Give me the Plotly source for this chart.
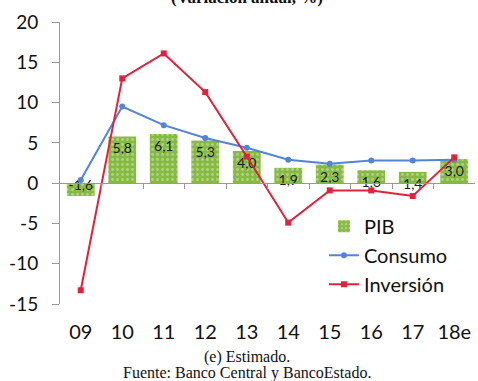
import plotly.graph_objects as go

# Annual growth figures (%)
years = ["09", "10", "11", "12", "13", "14", "15", "16", "17", "18e"]
pib = [-1.6, 5.8, 6.1, 5.3, 4.0, 1.9, 2.3, 1.6, 1.4, 3.0]
consumo = [0.4, 9.5, 7.2, 5.6, 4.4, 2.9, 2.4, 2.8, 2.8, 2.9]
inversion = [-13.3, 13.0, 16.1, 11.3, 3.3, -4.9, -0.9, -0.9, -1.6, 3.2]

y_ticks = [-15, -10, -5, 0, 5, 10, 15, 20]
y_ticktext = [str(v) for v in y_ticks]

idx = list(range(len(years)))
pib_text = [f"{v:.1f}".replace(".", ",") for v in pib]

fig = go.Figure()

fig.add_trace(go.Bar(
    x=idx, y=pib, name="PIB",
    marker=dict(color="#86ba43", line=dict(width=0),
                pattern=dict(shape=".", fgcolor="#d9ecc2", size=5, solidity=0.25)),
    width=0.67,
    text=pib_text, texttemplate="%{text}", textposition="inside", insidetextanchor="end",
    textfont=dict(family="Lato", size=14, color="#1a1a1a"),
    constraintext="none",
))

fig.add_trace(go.Scatter(
    x=idx, y=consumo, name="Consumo", mode="lines+markers",
    line=dict(color="#5285d8", width=2),
    marker=dict(color="#5285d8", size=6, symbol="circle"),
))

fig.add_trace(go.Scatter(
    x=idx, y=inversion, name="Inversión", mode="lines+markers",
    line=dict(color="#e0223c", width=2),
    marker=dict(color="#e0223c", size=6, symbol="square"),
))

# zero line with category-boundary ticks, on an overlaid axis
zero_pos = (0 - y_ticks[0]) / (y_ticks[-1] - y_ticks[0])
fig.add_trace(go.Scatter(x=[None], y=[None], xaxis="x2", showlegend=False, hoverinfo="skip"))

fig.update_layout(
    width=478, height=381,
    margin=dict(l=60, r=3, t=22, b=77),
    paper_bgcolor="white", plot_bgcolor="white",
    showlegend=True,
    legend=dict(x=0.636, y=0.345, xanchor="left", yanchor="top",
                font=dict(family="Lato", size=20, color="#111"),
                bgcolor="rgba(0,0,0,0)", itemwidth=30),
    xaxis=dict(range=[-0.5, 9.5], tickvals=idx, ticktext=years,
               showgrid=False, zeroline=False, showline=False, ticks="",
               ticklabelstandoff=14,
               tickfont=dict(family="Lato", size=20, color="#111")),
    xaxis2=dict(overlaying="x", anchor="free", position=zero_pos,
                range=[-0.5, 9.5], tickvals=[i + 0.5 for i in idx[:-1]],
                showticklabels=False, ticks="outside", ticklen=5, tickcolor="#999",
                showline=True, linecolor="#999", linewidth=1, showgrid=False, zeroline=False),
    yaxis=dict(range=[y_ticks[0], y_ticks[-1]], tickvals=y_ticks, ticktext=y_ticktext,
               showgrid=False, zeroline=False, showline=True, linecolor="#999",
               ticks="outside", ticklen=7, tickcolor="#999", ticklabelstandoff=10,
               tickfont=dict(family="Lato", size=19, color="#111")),
    annotations=[
        dict(text="<b>(Variación anual, %)</b>", xref="paper", yref="paper", x=0.45, y=1,
             yanchor="middle", yshift=25, showarrow=False,
             font=dict(family="Liberation Serif", size=17, color="#111")),
        dict(text="(e) Estimado.", xref="paper", yref="paper", x=0.45, y=0,
             yanchor="middle", yshift=-53, showarrow=False,
             font=dict(family="Liberation Serif", size=16, color="#111")),
        dict(text="Fuente: Banco Central y BancoEstado.", xref="paper", yref="paper",
             x=0.45, y=0, yanchor="middle", yshift=-69, showarrow=False,
             font=dict(family="Liberation Serif", size=16, color="#111")),
    ],
)

fig.write_html("out.html")
